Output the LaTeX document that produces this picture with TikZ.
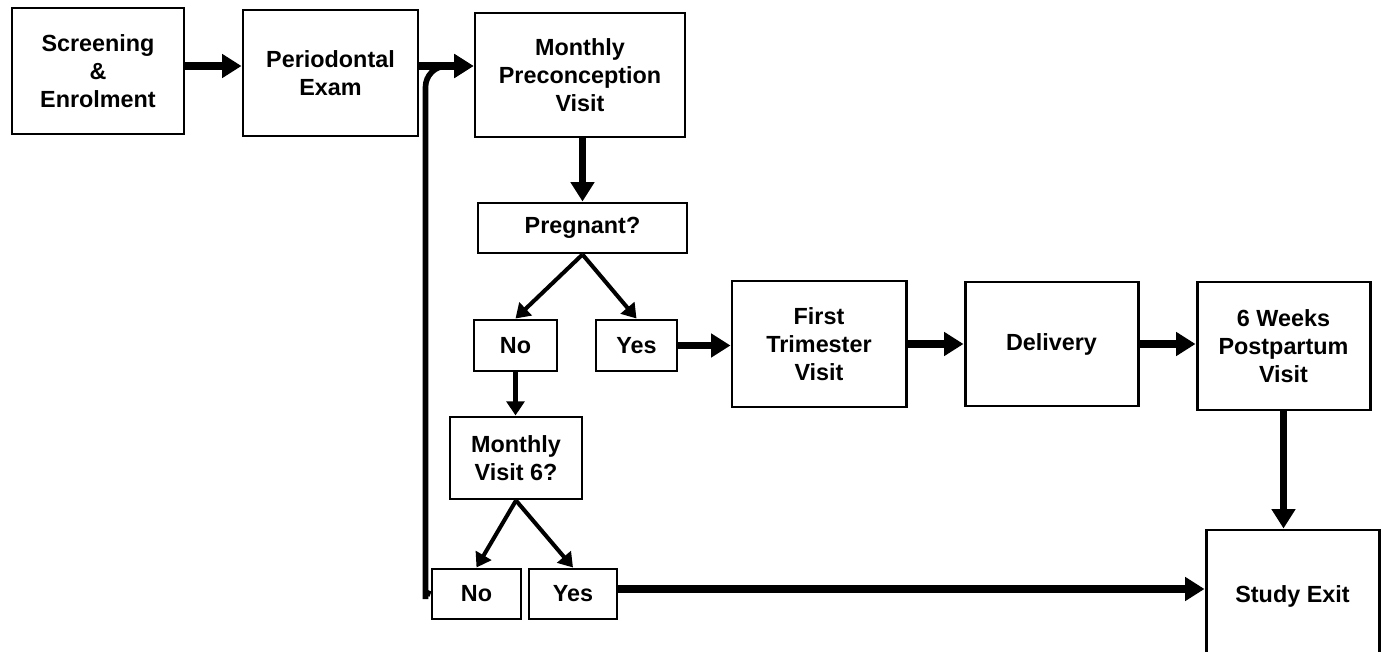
\documentclass[tikz,border=0pt]{standalone}
\usepackage{fontspec}
\setmainfont{Liberation Sans}
\usetikzlibrary{arrows.meta}
\begin{document}
\begin{tikzpicture}[x=0.02cm,y=-0.02cm,
	box/.style={draw,line width=1.7pt,align=center,font=\bfseries\fontsize{13.3}{16}\selectfont,inner sep=0pt},
	bigarrow/.style={line width=4pt,-{Triangle[length=11pt,width=13pt]}},
	smallarrow/.style={line width=2.3pt,-{Triangle[length=8pt,width=10pt]}},
	loopline/.style={line width=3.2pt,-{Triangle[length=11pt,width=13pt]}}]
		\useasboundingbox (0,0) rectangle (1387,652);
		\node[box,minimum width=172*0.02cm,minimum height=126*0.02cm] (scr) at (98,71) {Screening\\\&\\Enrolment};
		\node[box,minimum width=175*0.02cm,minimum height=126*0.02cm] (perio) at (330.5,73) {Periodontal\\Exam};
		\node[box,minimum width=210*0.02cm,minimum height=124*0.02cm] (mpv) at (580,75) {Monthly\\Preconception\\Visit};
		\node[box,minimum width=209*0.02cm,minimum height=50*0.02cm] (preg) at (582.5,228) {Pregnant?};
		\node[box,minimum width=83*0.02cm,minimum height=51*0.02cm] (noA) at (515.5,345.5) {No};
		\node[box,minimum width=81*0.02cm,minimum height=51*0.02cm] (yesA) at (636.5,345.5) {Yes};
		\node[box,minimum width=132*0.02cm,minimum height=82*0.02cm] (mvsix) at (516,458) {Monthly\\Visit 6?};
		\node[box,minimum width=89*0.02cm,minimum height=50*0.02cm] (noB) at (476.5,594) {No};
		\node[box,minimum width=88*0.02cm,minimum height=50*0.02cm] (yesB) at (573,594) {Yes};
		\node[box,minimum width=174*0.02cm,minimum height=126*0.02cm] (trim) at (819,344) {First\\Trimester\\Visit};
		\node[box,minimum width=173*0.02cm,minimum height=124*0.02cm] (deliv) at (1051.5,344) {Delivery};
		\node[box,minimum width=173*0.02cm,minimum height=128*0.02cm] (postp) at (1283.5,346) {6 Weeks\\Postpartum\\Visit};
		\node[box,minimum width=173*0.02cm,minimum height=132*0.02cm] (exit) at (1292.5,596) {Study Exit};
		\coordinate (toprow) at (0,66);
		\draw[bigarrow] (scr.east |- toprow) -- (perio.west |- toprow);
		\draw[bigarrow] (perio.east |- toprow) -- (mpv.west |- toprow);
		\draw[loopline,rounded corners=12] (noB.west) to[out=180,in=-90] ++(-5,-16) |- (mpv.west |- toprow);
		\draw[bigarrow] (mpv.south -| preg.north) -- (preg.north);
		\draw[smallarrow] (preg.south) -- (noA.north);
		\draw[smallarrow] (preg.south) -- (yesA.north);
		\draw[smallarrow] (noA.south) -- (noA.south |- mvsix.north);
		\draw[smallarrow] (mvsix.south) -- (noB.north);
		\draw[smallarrow] (mvsix.south) -- (yesB.north);
		\draw[bigarrow] (yesA.east) -- (yesA.east -| trim.west);
		\draw[bigarrow] (trim.east) -- (deliv.west);
		\draw[bigarrow] (deliv.east) -- (deliv.east -| postp.west);
		\draw[bigarrow] (postp.south) -- (postp.south |- exit.north);
		\draw[bigarrow] ([yshift=0.1cm]yesB.east) -- ([yshift=0.1cm]yesB.east -| exit.west);
\end{tikzpicture}
\end{document}
